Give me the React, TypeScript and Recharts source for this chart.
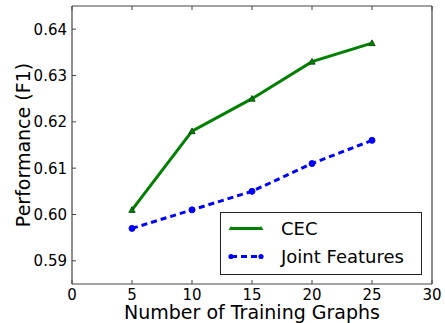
import React from 'react';
import { LineChart, Line, XAxis, YAxis } from 'recharts';

const graphs = [5, 10, 15, 20, 25];
const cecValues = [0.601, 0.618, 0.625, 0.633, 0.637];
const jointValues = [0.597, 0.601, 0.605, 0.611, 0.616];
const xTicks = [0, 5, 10, 15, 20, 25, 30];
const yTicks = [0.59, 0.6, 0.61, 0.62, 0.63, 0.64];

const data = graphs.map((g, i) => ({ g, cec: cecValues[i], joint: jointValues[i] }));

const FONT = 'DejaVu Sans, sans-serif';
const AX = '#444';

const BottomTick = (p: any) => (
  <g>
    <line x1={p.x} x2={p.x} y1={p.y} y2={p.y - 4} stroke={AX} strokeWidth={1} />
    <text x={p.x} y={p.y + 16} textAnchor="middle" fontSize={15} fontFamily={FONT} fill="#000">
      {p.payload.value}
    </text>
  </g>
);
const TopTick = (p: any) => (
  <line x1={p.x} x2={p.x} y1={p.y} y2={p.y + 4} stroke={AX} strokeWidth={1} />
);
const LeftTick = (p: any) => (
  <g>
    <line x1={p.x} x2={p.x + 4} y1={p.y} y2={p.y} stroke={AX} strokeWidth={1} />
    <text x={p.x - 5} y={p.y + 5.5} textAnchor="end" fontSize={15} fontFamily={FONT} fill="#000">
      {p.payload.value.toFixed(2)}
    </text>
  </g>
);
const RightTick = (p: any) => (
  <line x1={p.x} x2={p.x - 4} y1={p.y} y2={p.y} stroke={AX} strokeWidth={1} />
);

const Triangle = (p: any) => {
  const { cx, cy, index } = p;
  const s = 3.2;
  return (
    <path
      key={`t-${index}`}
      d={`M${cx},${cy - s} L${cx + s},${cy + s * 0.8} L${cx - s},${cy + s * 0.8} Z`}
      fill="#008000"
      stroke="#004000"
      strokeWidth={0.8}
    />
  );
};
const Dot = (p: any) => {
  const { cx, cy, index } = p;
  return <circle key={`c-${index}`} cx={cx} cy={cy} r={3} fill="#0000ff" stroke="#0000ff" />;
};

const LegendBox = () => (
  <svg width={202} height={63} style={{ display: 'block' }}>
    <rect x={0.5} y={0.5} width={201} height={62} fill="#fff" stroke="#222" strokeWidth={1} />
    <line x1={11} x2={41} y1={16.5} y2={16.5} stroke="#008000" strokeWidth={3} />
    <path d="M11,14 L13.5,18 L8.5,18 Z" fill="#008000" />
    <path d="M41,14 L43.5,18 L38.5,18 Z" fill="#008000" />
    <text x={61} y={23} fontSize={18} fontFamily={FONT} fill="#000">CEC</text>
    <line x1={11} x2={41} y1={44.5} y2={44.5} stroke="#0000ff" strokeWidth={3} strokeDasharray="6,4" />
    <circle cx={11} cy={44.5} r={2.6} fill="#0000ff" />
    <circle cx={41} cy={44.5} r={2.6} fill="#0000ff" />
    <text x={61} y={51} fontSize={18} fontFamily={FONT} fill="#000">Joint Features</text>
  </svg>
);

export default function App() {
  return (
    <div style={{ position: 'absolute', left: 0, top: 0, width: 445, height: 323, background: '#fff' }}>
      <LineChart width={445} height={323} data={data} margin={{ top: 5, right: 12, bottom: 0, left: 0 }}>
        <XAxis
          xAxisId="b"
          dataKey="g"
          type="number"
          domain={[0, 30]}
          ticks={xTicks}
          tickSize={0}
          tickMargin={0}
          tick={BottomTick}
          tickLine={false}
          axisLine={{ stroke: AX, strokeWidth: 1.2 }}
          height={39}
          label={{ value: 'Number of Training Graphs', position: 'insideBottom', offset: 0, dy: -4, fontSize: 19, fontFamily: FONT, fill: '#000' }}
          interval={0}
        />
        <XAxis
          xAxisId="t"
          orientation="top"
          dataKey="g"
          type="number"
          domain={[0, 30]}
          ticks={xTicks}
          tickSize={0}
          tickMargin={0}
          tick={TopTick}
          tickLine={false}
          axisLine={{ stroke: AX, strokeWidth: 1.2 }}
          height={1}
          interval={0}
        />
        <YAxis
          yAxisId="l"
          type="number"
          domain={[0.585, 0.645]}
          ticks={yTicks}
          tickSize={0}
          tickMargin={0}
          tick={LeftTick}
          tickLine={false}
          axisLine={{ stroke: AX, strokeWidth: 1.2 }}
          width={72}
          interval={0}
          label={{ value: 'Performance (F1)', angle: -90, position: 'insideLeft', offset: 0, dx: 23, fontSize: 19, fontFamily: FONT, fill: '#000', style: { textAnchor: 'middle' } }}
        />
        <YAxis
          yAxisId="r"
          orientation="right"
          type="number"
          domain={[0.585, 0.645]}
          ticks={yTicks}
          tickSize={0}
          tickMargin={0}
          tick={RightTick}
          tickLine={false}
          axisLine={{ stroke: AX, strokeWidth: 1.2 }}
          width={1}
          interval={0}
        />
        <Line
          xAxisId="b"
          yAxisId="l"
          dataKey="cec"
          stroke="#008000"
          strokeWidth={3}
          dot={Triangle}
          isAnimationActive={false}
        />
        <Line
          xAxisId="b"
          yAxisId="l"
          dataKey="joint"
          stroke="#0000ff"
          strokeWidth={3}
          strokeDasharray="6 4"
          dot={Dot}
          isAnimationActive={false}
        />
      </LineChart>
      <div style={{ position: 'absolute', left: 220, top: 212 }}>
        <LegendBox />
      </div>
    </div>
  );
}
